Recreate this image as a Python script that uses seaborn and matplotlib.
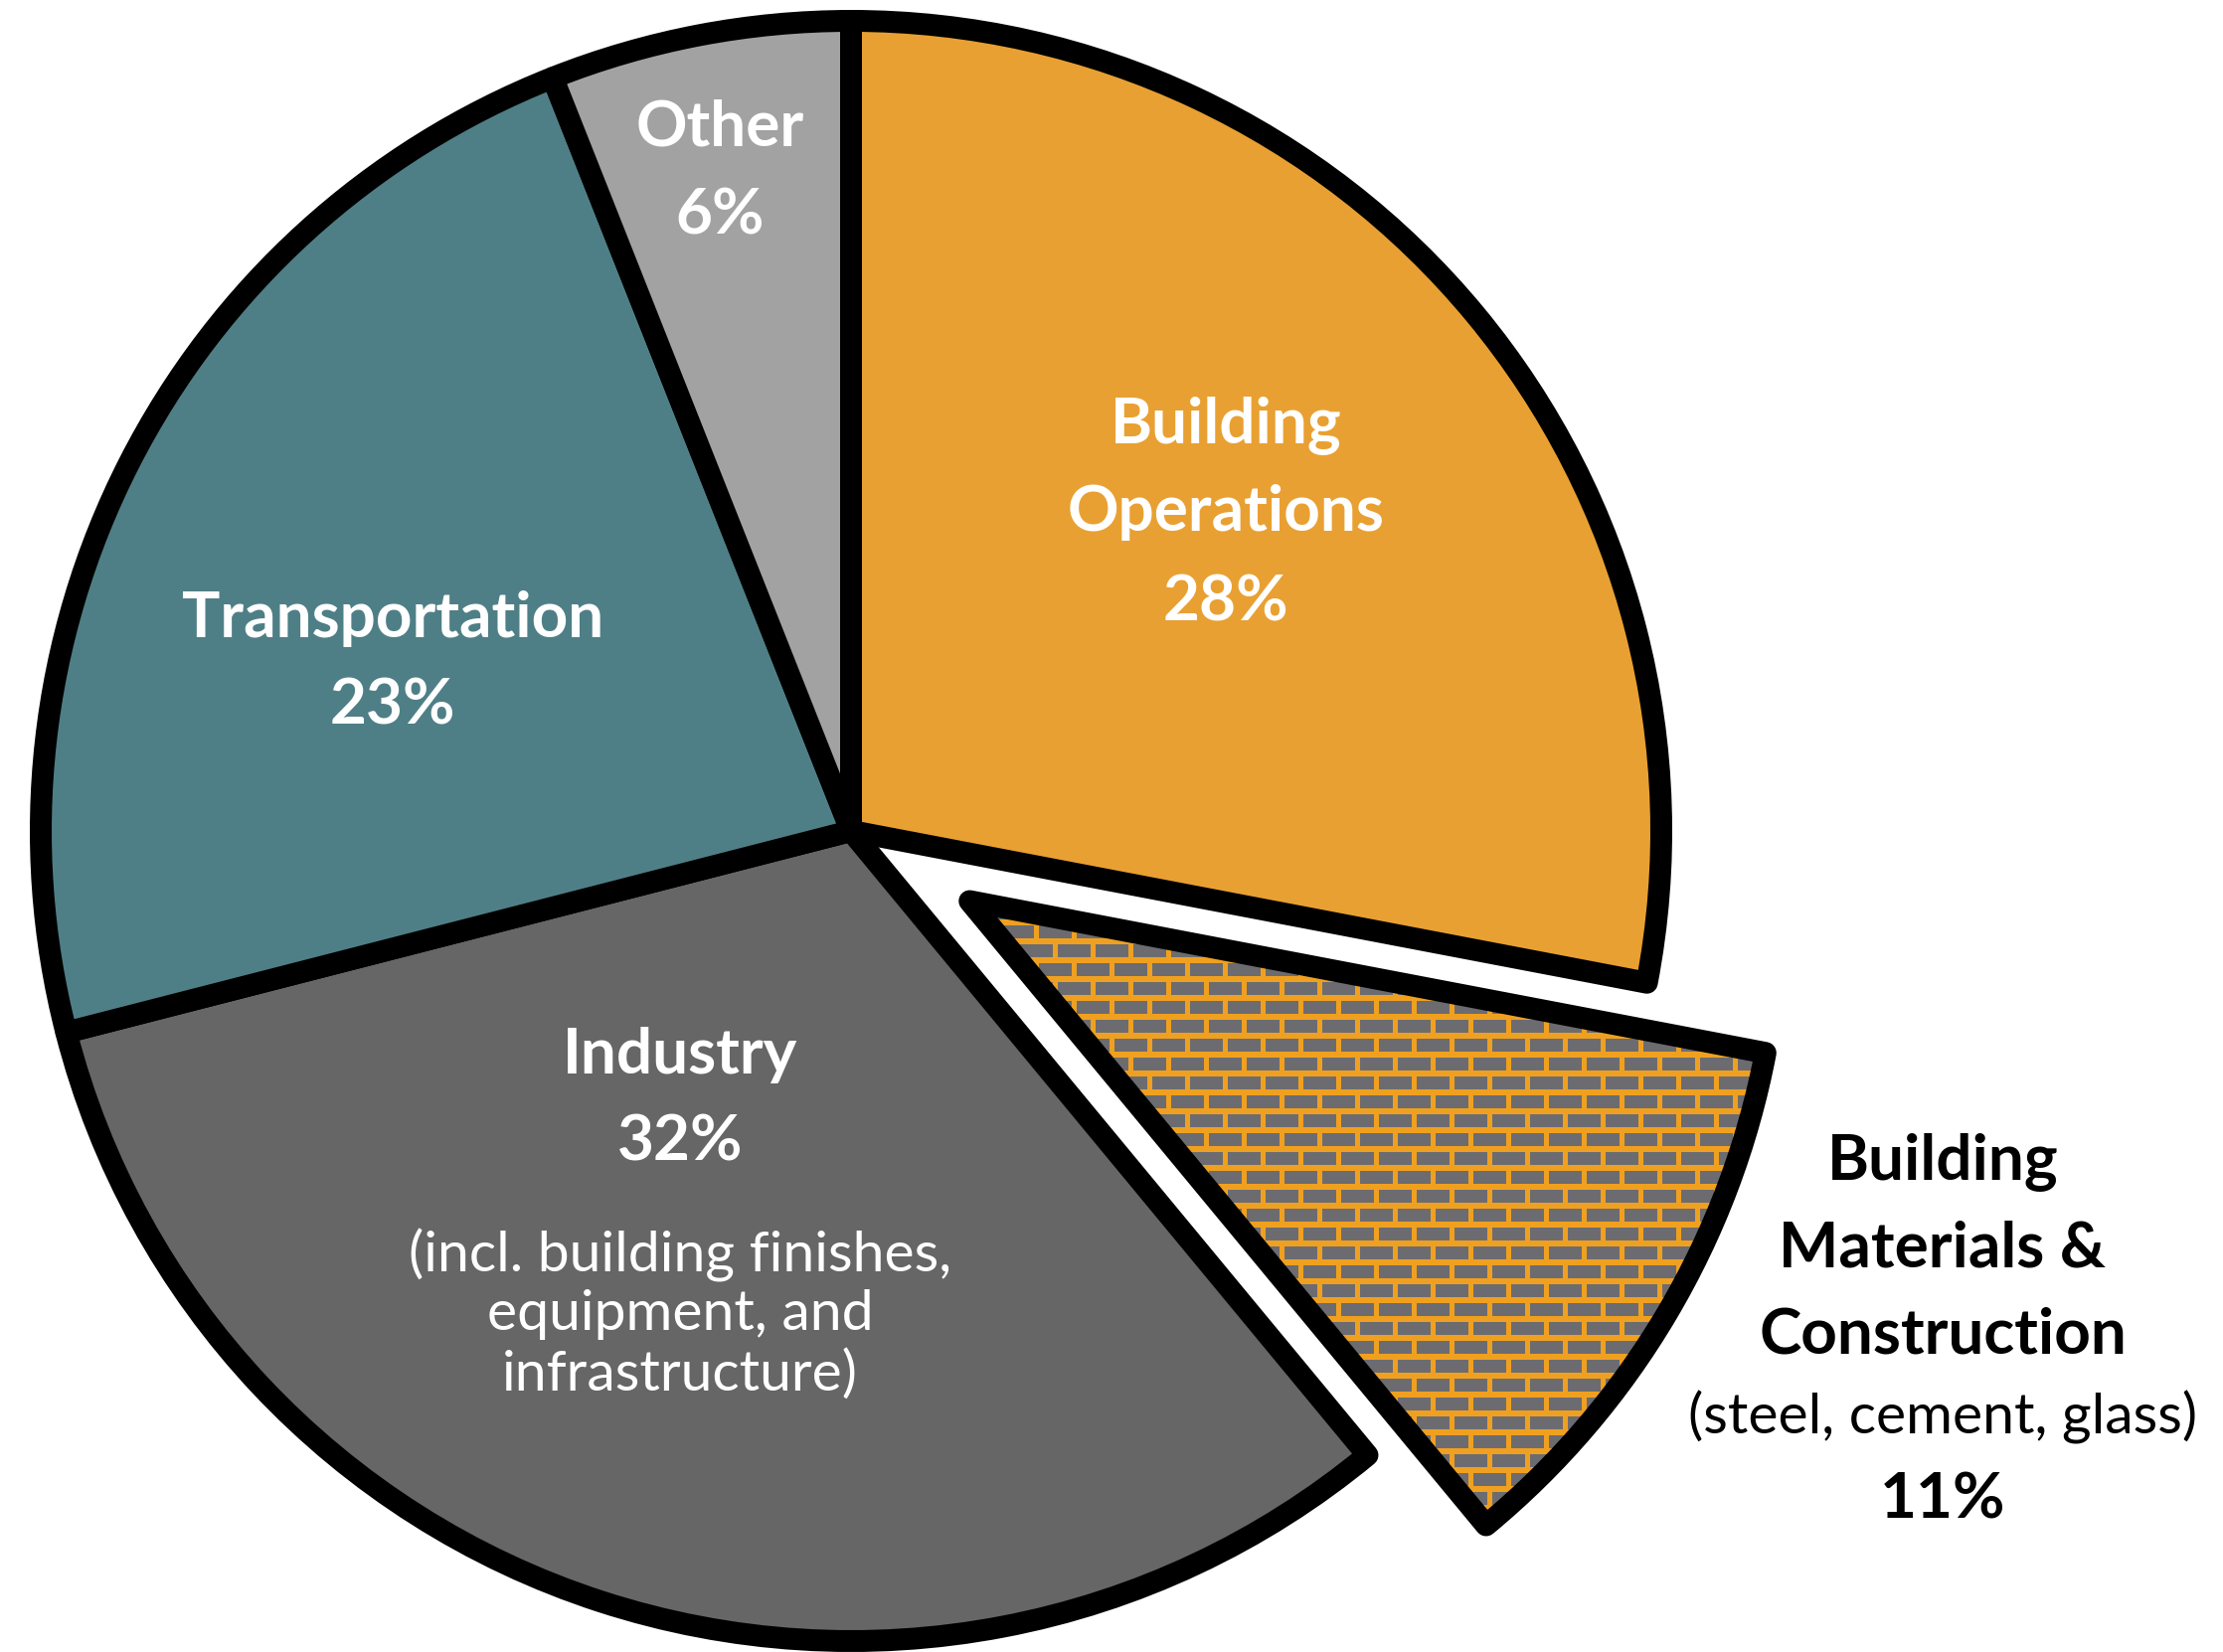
import numpy as np
import matplotlib
matplotlib.use("Agg")
import matplotlib.pyplot as plt
import seaborn as sns

# data
sectors = ["Building Operations", "Building Materials & Construction", "Industry",
           "Transportation", "Other"]
shares = [28, 11, 32, 23, 6]
explode = [0, 0.17, 0, 0, 0]
colors = ["#E9A032", "#E9A032", "#666666", "#4F7F86", "#A2A2A2"]

sns.set_theme(style="white")
plt.rcParams["font.family"] = ["Lato", "DejaVu Sans"]

W, H, DPI = 2236, 1662, 100
R = 815.0          # pie radius in pixels
cx, cy = 856, 836  # pie centre in pixels (from top-left)

fig = plt.figure(figsize=(W / DPI, H / DPI), dpi=DPI)
ax = fig.add_axes([0, 0, 1, 1])

lw = 22 * 72 / DPI
wedges, _ = ax.pie(shares, explode=explode, colors=colors, startangle=90,
                   counterclock=False, radius=1,
                   wedgeprops=dict(edgecolor="black", linewidth=lw, joinstyle="round"))

xlim = (-cx / R, (W - cx) / R)
ylim = (-(H - cy) / R, cy / R)
ax.set_xlim(*xlim)
ax.set_ylim(*ylim)
ax.set_aspect("equal")
ax.axis("off")

# brick texture for the exploded slice
py, px = np.indices((H, W))
row = py // 19
shift = (row % 2) * 19
brick = ((px + shift) % 38 < 33) & (py % 19 < 13)
tex = np.empty((H, W, 3))
tex[:] = np.array([240, 160, 32]) / 255
tex[brick] = np.array([108, 108, 112]) / 255
bm = wedges[1]
bm.set_facecolor("none")
img = ax.imshow(tex, extent=(*xlim, *ylim), origin="upper", zorder=0.5,
                interpolation="nearest")
img.set_clip_path(bm)
ax.set_xlim(*xlim)
ax.set_ylim(*ylim)


def P(x, y):
    return (x - cx) / R, (cy - y) / R


bold = dict(ha="center", va="center", fontweight="bold", fontsize=46, color="white")
reg = dict(ha="center", va="center", fontsize=41, color="white")

ax.text(*P(1233, 428), "Building", **bold)
ax.text(*P(1233, 516), "Operations", **bold)
ax.text(*P(1233, 606), "28%", **bold)

ax.text(*P(724, 128), "Other", **bold)
ax.text(*P(724, 217), "6%", **bold)

ax.text(*P(395, 623), "Transportation", **bold)
ax.text(*P(395, 710), "23%", **bold)

ax.text(*P(684, 1062), "Industry", **bold)
ax.text(*P(684, 1149), "32%", **bold)
ax.text(*P(684, 1263), "(incl. building finishes,", **reg)
ax.text(*P(684, 1323), "equipment, and", **reg)
ax.text(*P(684, 1383), "infrastructure)", **reg)

bold_k = dict(bold, color="black")
reg_k = dict(reg, color="black")
ax.text(*P(1954, 1169), "Building", **bold_k)
ax.text(*P(1954, 1256), "Materials &", **bold_k)
ax.text(*P(1954, 1343), "Construction", **bold_k)
ax.text(*P(1954, 1426), "(steel, cement, glass)", **reg_k)
ax.text(*P(1954, 1509), "11%", **bold_k)

fig.savefig("out.png", dpi=DPI, facecolor="white")
